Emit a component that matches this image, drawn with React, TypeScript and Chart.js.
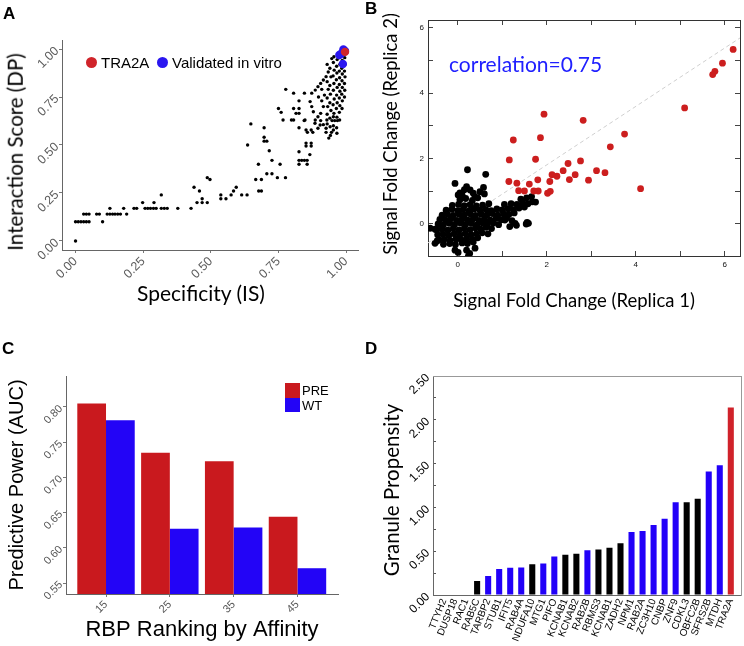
import React, { useEffect, useRef } from 'react';
import { Chart, registerables } from 'chart.js';

Chart.register(...registerables);

// ================= Panel A: Specificity vs Interaction Score =================
const aXTicks = [0, 0.25, 0.5, 0.75, 1];
const aYTicks = [0, 0.25, 0.5, 0.75, 1];
const aTRA2A: [number, number][] = [[0.996, 0.985]];
const aValidated: [number, number][] = [
  [0.99, 0.998], [0.975, 0.969], [0.988, 0.922], [0.982, 0.975], [0.996, 0.99],
];
const aOthers: [number, number][] = [
  [0, 0], [0, 0.10], [0.01, 0.10], [0.02, 0.10], [0.03, 0.10], [0.04, 0.10], [0.05, 0.10],
  [0.03, 0.14], [0.04, 0.14], [0.05, 0.14], [0.078, 0.14], [0.088, 0.14], [0.10, 0.10],
  [0.117, 0.14], [0.127, 0.14], [0.137, 0.14], [0.146, 0.14], [0.156, 0.14], [0.166, 0.14], [0.189, 0.14],
  [0.127, 0.17], [0.178, 0.17],
  [0.216, 0.17], [0.226, 0.17], [0.257, 0.17], [0.267, 0.17], [0.277, 0.17], [0.288, 0.17], [0.298, 0.17],
  [0.317, 0.17], [0.328, 0.17], [0.339, 0.17], [0.378, 0.17], [0.427, 0.17],
  [0.248, 0.20], [0.29, 0.20], [0.317, 0.24],
  [0.438, 0.28], [0.458, 0.26], [0.449, 0.20], [0.468, 0.22], [0.468, 0.20], [0.487, 0.20],
  [0.487, 0.33], [0.497, 0.32],
  [0.537, 0.24], [0.537, 0.22], [0.556, 0.22], [0.575, 0.24], [0.584, 0.26], [0.594, 0.28], [0.614, 0.24], [0.634, 0.24],
  [0.636, 0.50], [0.648, 0.61],
  [0.666, 0.32], [0.687, 0.32], [0.676, 0.40], [0.677, 0.26], [0.687, 0.26],
  [0.697, 0.59], [0.697, 0.54], [0.697, 0.52], [0.707, 0.52], [0.716, 0.47], [0.726, 0.42], [0.756, 0.40],
  [0.707, 0.35], [0.726, 0.35], [0.746, 0.33], [0.776, 0.33],
  [0.75, 0.69], [0.76, 0.67], [0.767, 0.63], [0.777, 0.79], [0.798, 0.63],
  [0.806, 0.77], [0.806, 0.69], [0.815, 0.665], [0.806, 0.63], [0.826, 0.73], [0.826, 0.69], [0.826, 0.665],
  [0.846, 0.77], [0.848, 0.63],
  [0.826, 0.59], [0.852, 0.51], [0.871, 0.51], [0.852, 0.495], [0.871, 0.495],
  [0.826, 0.465], [0.826, 0.42], [0.836, 0.42], [0.846, 0.42], [0.856, 0.42], [0.826, 0.40], [0.856, 0.40], [0.866, 0.45],
  [0.857, 0.566], [0.877, 0.566], [0.845, 0.627], [0.852, 0.578], [0.871, 0.578],
  [0.886, 0.63], [0.896, 0.647], [0.906, 0.665],
  [0.886, 0.786], [0.896, 0.804], [0.906, 0.821], [0.916, 0.839], [0.926, 0.856],
  [0.873, 0.77], [0.867, 0.726], [0.873, 0.70], [0.879, 0.673], [0.885, 0.613],
  [0.896, 0.587], [0.906, 0.627], [0.916, 0.606], [0.926, 0.587], [0.926, 0.566], [0.936, 0.536], [0.946, 0.566],
  [0.948, 0.627], [0.958, 0.627], [0.968, 0.627],
  [0.904, 0.604], [0.929, 0.63], [0.941, 0.595], [0.953, 0.647], [0.953, 0.578], [0.966, 0.561],
  [0.91, 0.73], [0.916, 0.70], [0.92, 0.76], [0.898, 0.75], [0.91, 0.79],
  [0.93, 0.61], [0.93, 0.66], [0.932, 0.70], [0.93, 0.745], [0.934, 0.79], [0.93, 0.83], [0.934, 0.88], [0.93, 0.92],
  [0.942, 0.55], [0.94, 0.64], [0.944, 0.68], [0.94, 0.72], [0.942, 0.765], [0.94, 0.81], [0.944, 0.855], [0.94, 0.90], [0.947, 0.95],
  [0.953, 0.60], [0.955, 0.665], [0.952, 0.71], [0.956, 0.74], [0.953, 0.785], [0.955, 0.82], [0.952, 0.86], [0.956, 0.89], [0.953, 0.93], [0.955, 0.96],
  [0.965, 0.59], [0.966, 0.645], [0.964, 0.69], [0.967, 0.72], [0.965, 0.76], [0.967, 0.80], [0.964, 0.84], [0.966, 0.875], [0.965, 0.91], [0.967, 0.945],
  [0.976, 0.63], [0.975, 0.67], [0.977, 0.705], [0.975, 0.745], [0.977, 0.78], [0.975, 0.815], [0.976, 0.85], [0.975, 0.885], [0.977, 0.92], [0.976, 0.955],
  [0.985, 0.69], [0.986, 0.73], [0.984, 0.765], [0.986, 0.80], [0.985, 0.835], [0.986, 0.87], [0.984, 0.90], [0.986, 0.94],
  [0.994, 0.75], [0.995, 0.785], [0.994, 0.82], [0.996, 0.855], [0.994, 0.885], [0.996, 0.92], [0.995, 0.955], [0.997, 0.975],
];

// ================= Panel B: replica fold changes =================
const bTicks = [0, 1, 2, 3, 4, 5, 6];
const bEnriched: [number, number][] = [
  [6.19, 5.34], [5.95, 4.92], [5.78, 4.67], [5.73, 4.57], [5.10, 3.55], [4.11, 1.08], [3.75, 2.75],
  [3.43, 2.36], [3.31, 1.57], [3.12, 1.63], [2.94, 1.34], [2.82, 3.17], [2.76, 1.93], [2.64, 1.51],
  [2.51, 1.36], [2.48, 1.85], [2.37, 1.63], [2.23, 1.46], [2.12, 1.51], [2.07, 1.30], [2.08, 1.00],
  [2.02, 0.94], [1.94, 3.36], [1.86, 2.64], [1.80, 1.35], [1.75, 1.98], [1.81, 1.01], [1.71, 1.01],
  [1.61, 1.22], [1.50, 1.01], [1.37, 1.02], [1.33, 1.25], [1.25, 2.57], [1.16, 1.96], [1.15, 1.30],
];
const bOther: [number, number][] = [
  [-0.32, -0.62], [-0.18, -0.6], [-0.05, -0.63], [0.1, -0.58], [0.22, -0.6], [0.35, -0.55],
  [-0.42, -0.48], [-0.3, -0.47], [-0.17, -0.5], [-0.04, -0.46], [0.08, -0.49], [0.2, -0.45], [0.33, -0.48], [0.45, -0.42],
  [-0.45, -0.33], [-0.33, -0.31], [-0.2, -0.35], [-0.08, -0.3], [0.05, -0.34], [0.17, -0.29], [0.3, -0.33], [0.42, -0.3], [0.55, -0.27], [0.68, -0.3],
  [-0.47, -0.18], [-0.35, -0.15], [-0.22, -0.19], [-0.1, -0.14], [0.03, -0.18], [0.15, -0.13], [0.28, -0.17], [0.4, -0.12], [0.52, -0.16], [0.64, -0.1], [0.76, -0.14],
  [-0.44, 0.0], [-0.32, -0.03], [-0.19, 0.02], [-0.07, -0.02], [0.06, 0.03], [0.18, -0.01], [0.31, 0.02], [0.43, -0.03], [0.55, 0.04], [0.67, 0.0], [0.8, 0.03], [0.92, -0.02],
  [-0.4, 0.14], [-0.27, 0.12], [-0.15, 0.16], [-0.02, 0.11], [0.1, 0.15], [0.23, 0.12], [0.35, 0.16], [0.48, 0.11], [0.6, 0.15], [0.73, 0.12], [0.86, 0.17], [0.98, 0.13], [1.1, 0.18],
  [-0.35, 0.27], [-0.23, 0.3], [-0.1, 0.26], [0.03, 0.3], [0.15, 0.27], [0.28, 0.31], [0.4, 0.26], [0.53, 0.3], [0.66, 0.28], [0.78, 0.32], [0.9, 0.27], [1.03, 0.31], [1.15, 0.29], [1.27, 0.34],
  [-0.26, 0.42], [-0.13, 0.45], [0.0, 0.41], [0.12, 0.44], [0.25, 0.4], [0.37, 0.46], [0.5, 0.42], [0.63, 0.45], [0.75, 0.41], [0.88, 0.46], [1.0, 0.43], [1.13, 0.47], [1.25, 0.44], [1.38, 0.49], [1.5, 0.52],
  [-0.12, 0.57], [0.02, 0.6], [0.15, 0.56], [0.28, 0.59], [0.42, 0.55], [0.56, 0.58], [0.7, 0.62], [1.05, 0.6], [1.2, 0.62], [1.33, 0.6], [1.46, 0.65], [1.58, 0.62], [1.68, 0.68],
  [0.05, 0.74], [0.18, 0.78], [0.33, 0.72], [0.45, 0.8], [1.42, 0.76], [1.55, 0.8], [1.66, 0.84], [1.75, 0.67],
  [-0.06, 1.24], [0.01, 0.89], [0.05, 0.95], [0.2, 1.14], [0.28, 1.04], [0.35, 0.94], [0.39, 0.83], [0.5, 0.99],
  [0.58, 1.12], [0.6, 0.92], [0.22, 1.66], [0.63, 1.52], [0.15, 1.05], [0.1, 0.88],
  [-0.62, -0.13], [-0.51, -0.16], [-0.51, -0.59], [-0.46, -0.52], [-0.06, -0.8], [0.01, -0.87], [0.2, -0.8],
  [0.24, -0.98], [0.39, -0.74], [0.27, -0.9],
  [1.06, 0.12], [1.22, 0.1], [1.32, -0.04], [1.29, 0.02], [1.54, 0.0], [1.56, 0.05], [1.59, 0.02], [1.17, -0.08],
];
const bFitSlope = 0.894;
const bFitIntercept = 0.019;
const bCorrelation = 0.75;

// ================= Panel C: predictive power =================
const cRanks = [15, 25, 35, 45];
const cPRE = [0.805, 0.735, 0.723, 0.644];
const cWT = [0.781, 0.627, 0.629, 0.571];
const cYTicks = [0.55, 0.6, 0.65, 0.7, 0.75, 0.8];

// ================= Panel D: granule propensity =================
const dGenes = [
  'TTYH2', 'DUSP18', 'RAC1', 'RAB5C', 'TARBP2', 'STUB1', 'IFIT5', 'RAB4A', 'NDUFA10', 'MTG1',
  'PIFO', 'KCNAB1', 'KCNAB2', 'RAB2B', 'RBMS3', 'KCNAB1', 'ZADH2', 'NPM1', 'RAB2A', 'ZC3H10',
  'CNBP', 'ZNF9', 'CDKL3', 'OBFC2B', 'SFRS2B', 'MTDH', 'TRA2A',
];
const dValues = [
  0, 0, 0, 0.16, 0.217, 0.296, 0.31, 0.315, 0.35, 0.36,
  0.44, 0.46, 0.47, 0.51, 0.52, 0.54, 0.59, 0.72, 0.73, 0.80,
  0.87, 1.06, 1.06, 1.10, 1.41, 1.48, 2.14,
];
// o = other, v = validated, t = TRA2A
const dGroups = [
  'o', 'o', 'o', 'o', 'v', 'v', 'v', 'v', 'o', 'v',
  'v', 'o', 'o', 'v', 'o', 'o', 'o', 'v', 'v', 'v',
  'v', 'v', 'o', 'o', 'v', 'v', 't',
];
const dYTicks = [0, 0.25, 0.5, 0.75, 1, 1.25, 1.5, 1.75, 2, 2.25, 2.5];

// ---------------- styles ----------------
const SANS = 'Liberation Sans';
const CAL = 'Lato';
const groupColor: Record<string, string> = { o: '#000000', v: '#2200f8', t: '#d0222a' };

const baseOptions = {
  animation: false as const,
  responsive: false,
  maintainAspectRatio: false,
  devicePixelRatio: 1,
  events: [] as any[],
};
const noPlugins = { legend: { display: false }, tooltip: { enabled: false } };
const setTicks = (vals: number[]) => (s: any) => {
  s.ticks = vals.map((v) => ({ value: v }));
};
const toXY = (pts: [number, number][]) => pts.map(([x, y]) => ({ x, y }));

function configA(): any {
  const tickFont = { family: SANS, size: 12.5 };
  return {
    type: 'scatter',
    data: {
      datasets: [
        { data: toXY(aTRA2A), backgroundColor: '#d0242a', pointRadius: 4.2, borderWidth: 0 },
        { data: toXY(aValidated), backgroundColor: '#2a16f0', pointRadius: 4.2, borderWidth: 0 },
        { data: toXY(aOthers), backgroundColor: '#000', pointRadius: 1.7, borderWidth: 0 },
      ],
    },
    options: {
      ...baseOptions,
      layout: { padding: { top: 40, right: 14, left: 0, bottom: 0 } },
      plugins: noPlugins,
      scales: {
        x: {
          type: 'linear', min: -0.05, max: 1.044,
          afterBuildTicks: setTicks(aXTicks),
          afterFit: (s: any) => { s.height = 70; },
          ticks: { autoSkip: false, minRotation: 45, maxRotation: 45, padding: 1, color: '#5c5c5c', font: tickFont, callback: (v: any) => Number(v).toFixed(2) },
          grid: { drawOnChartArea: false, tickLength: 3, tickColor: '#777' },
          border: { color: '#666' },
        },
        y: {
          type: 'linear', min: -0.047, max: 1.047,
          afterBuildTicks: setTicks(aYTicks),
          afterFit: (s: any) => { s.width = 62; },
          ticks: { autoSkip: false, minRotation: 45, maxRotation: 45, padding: 2, color: '#5c5c5c', font: tickFont, callback: (v: any) => Number(v).toFixed(2) },
          grid: { drawOnChartArea: false, tickLength: 3, tickColor: '#777' },
          border: { color: '#666' },
        },
      },
    },
  };
}

function configB(): any {
  const xMin = -0.667, xMax = 6.344;
  const tickFont = { family: SANS, size: 8 };
  const lbl = (v: any) => (Number(v) % 2 === 0 ? String(v) : '');
  const inner = { drawOnChartArea: false, tickLength: -5, tickColor: '#444' };
  return {
    type: 'scatter',
    data: {
      datasets: [
        { data: toXY(bEnriched), backgroundColor: '#cc1e1e', pointRadius: 3.4, borderWidth: 0 },
        { data: toXY(bOther), backgroundColor: '#000', pointRadius: 3.4, borderWidth: 0 },
        {
          data: [xMin, xMax].map((x) => ({ x, y: bFitIntercept + bFitSlope * x })),
          showLine: true, pointRadius: 0, borderColor: '#cfcfcf', borderWidth: 1, borderDash: [4, 3],
        },
      ],
    },
    options: {
      ...baseOptions,
      layout: { padding: { top: 20, right: 4, left: 0, bottom: 0 } },
      plugins: noPlugins,
      scales: {
        x: {
          type: 'linear', min: xMin, max: xMax,
          afterBuildTicks: setTicks(bTicks),
          afterFit: (s: any) => { s.height = 64; },
          ticks: { autoSkip: false, maxRotation: 0, padding: 9, color: '#111', font: tickFont, callback: lbl },
          grid: inner, border: { color: '#333' },
        },
        y: {
          type: 'linear', min: -0.979, max: 6.24,
          afterBuildTicks: setTicks(bTicks),
          afterFit: (s: any) => { s.width = 56; },
          ticks: { autoSkip: false, padding: 9, color: '#111', font: tickFont, callback: lbl },
          grid: inner, border: { color: '#333' },
        },
        x2: {
          type: 'linear', position: 'top', min: xMin, max: xMax,
          afterBuildTicks: setTicks(bTicks),
          afterFit: (s: any) => { s.height = 0; },
          ticks: { display: false }, grid: inner, border: { color: '#333' },
        },
        y2: {
          type: 'linear', position: 'right', min: -0.979, max: 6.24,
          afterBuildTicks: setTicks(bTicks),
          afterFit: (s: any) => { s.width = 0; },
          ticks: { display: false }, grid: inner, border: { color: '#333' },
        },
      },
    },
  };
}

function configC(): any {
  const yMin = 0.5344, yMax = 0.844;
  const tickFont = { family: SANS, size: 11 };
  return {
    type: 'bar',
    data: {
      datasets: [
        { label: 'PRE', data: cRanks.map((r, i) => ({ x: r, y: cPRE[i] })), backgroundColor: '#c9191e' },
        { label: 'WT', data: cRanks.map((r, i) => ({ x: r, y: cWT[i] })), backgroundColor: '#2304f6' },
      ],
    },
    options: {
      ...baseOptions,
      layout: { padding: { top: 56, right: 34, left: 0, bottom: 0 } },
      plugins: noPlugins,
      datasets: { bar: { categoryPercentage: 0.9, barPercentage: 1.0, base: yMin } },
      scales: {
        x: {
          type: 'linear', offset: false, min: 8.73, max: 51.35,
          afterBuildTicks: setTicks(cRanks),
          afterFit: (s: any) => { s.height = 52; },
          ticks: { autoSkip: false, minRotation: 45, maxRotation: 45, padding: 1, color: '#555', font: tickFont, callback: (v: any) => String(v) },
          grid: { drawOnChartArea: false, offset: false, tickLength: 3, tickColor: '#777' },
          border: { color: '#666' },
          title: { display: true, text: 'RBP Ranking by Affinity', color: '#000', font: { family: SANS, size: 22 }, padding: { top: 3, bottom: 3 } },
        },
        y: {
          type: 'linear', min: yMin, max: yMax,
          afterBuildTicks: setTicks(cYTicks),
          afterFit: (s: any) => { s.width = 66; },
          ticks: { autoSkip: false, minRotation: 45, maxRotation: 45, padding: 2, color: '#555', font: tickFont, callback: (v: any) => Number(v).toFixed(2) },
          grid: { drawOnChartArea: false, tickLength: 3, tickColor: '#777' },
          border: { color: '#666' },
          title: { display: true, text: 'Predictive Power (AUC)', color: '#000', font: { family: SANS, size: 20 }, padding: { top: 5, bottom: 5 } },
        },
      },
    },
  };
}

function configD(): any {
  const isMajor = (v: number) => Math.abs(v * 2 - Math.round(v * 2)) < 1e-6;
  const inner = { drawOnChartArea: false, tickLength: -3, tickColor: '#555' };
  return {
    type: 'bar',
    data: {
      datasets: [
        {
          data: dGenes.map((g, i) => ({ x: i, y: dValues[i] })),
          backgroundColor: dGroups.map((g) => groupColor[g]),
          categoryPercentage: 1, barPercentage: 0.55,
        },
      ],
    },
    options: {
      ...baseOptions,
      layout: { padding: { top: 56, right: 2, left: 0, bottom: 0 } },
      plugins: noPlugins,
      scales: {
        x: {
          type: 'linear', offset: false, min: -1, max: dGenes.length,
          afterBuildTicks: setTicks(dGenes.map((g, i) => i)),
          afterFit: (s: any) => { s.height = 51; },
          ticks: { autoSkip: false, minRotation: 68, maxRotation: 68, padding: 2, color: '#000', font: { family: SANS, size: 10 }, callback: (v: any) => dGenes[Math.round(Number(v))] },
          grid: { drawOnChartArea: false, drawTicks: false },
          border: { color: '#666' },
        },
        y: {
          type: 'linear', min: 0, max: 2.5,
          afterBuildTicks: setTicks(dYTicks),
          afterFit: (s: any) => { s.width = 61; },
          ticks: { autoSkip: false, minRotation: 45, maxRotation: 45, padding: 8, color: '#000', font: { family: SANS, size: 12 }, callback: (v: any) => (isMajor(Number(v)) ? Number(v).toFixed(2) : '') },
          grid: inner,
          border: { color: '#666' },
        },
        x2: {
          type: 'linear', position: 'top', min: -1, max: dGenes.length,
          afterFit: (s: any) => { s.height = 0; },
          ticks: { display: false }, grid: { drawOnChartArea: false, drawTicks: false }, border: { color: '#999' },
        },
        y2: {
          type: 'linear', position: 'right', min: 0, max: 2.5,
          afterFit: (s: any) => { s.width = 0; },
          ticks: { display: false }, grid: { drawOnChartArea: false, drawTicks: false }, border: { color: '#999' },
        },
      },
    },
  };
}

function ChartCanvas(props: { left: number; top: number; width: number; height: number; make: () => any }) {
  const ref = useRef<HTMLCanvasElement>(null);
  useEffect(() => {
    const chart = new Chart(ref.current as HTMLCanvasElement, props.make());
    return () => chart.destroy();
  }, []);
  return (
    <canvas
      ref={ref}
      width={props.width}
      height={props.height}
      style={{ position: 'absolute', left: props.left, top: props.top, width: props.width, height: props.height }}
    />
  );
}

function Label(props: { x: number; y: number; text: string; style?: React.CSSProperties; center?: boolean; vertical?: boolean }) {
  let transform = 'translate(0, -50%)';
  if (props.center) transform = 'translate(-50%, -50%)';
  if (props.vertical) transform = 'translate(-50%, -50%) rotate(-90deg)';
  return (
    <div
      style={{
        position: 'absolute', left: props.x, top: props.y, whiteSpace: 'nowrap', lineHeight: 1,
        transform, ...props.style,
      }}
    >
      {props.text}
    </div>
  );
}

function Dot(props: { x: number; y: number; r: number; color: string }) {
  return (
    <div style={{ position: 'absolute', left: props.x - props.r, top: props.y - props.r, width: props.r * 2, height: props.r * 2, borderRadius: '50%', background: props.color }} />
  );
}

function Swatch(props: { x: number; y: number; w: number; h: number; color: string }) {
  return <div style={{ position: 'absolute', left: props.x, top: props.y, width: props.w, height: props.h, background: props.color }} />;
}

export default function App() {
  const letter: React.CSSProperties = { fontFamily: SANS, fontWeight: 'bold', fontSize: 17, color: '#000' };
  const cal = (size: number): React.CSSProperties => ({ fontFamily: CAL, fontSize: size, color: '#000' });
  return (
    <div style={{ position: 'absolute', left: 0, top: 0, width: 744, height: 646, background: '#fff', overflow: 'hidden' }}>
      <ChartCanvas left={0} top={0} width={372} height={320} make={configA} />
      <ChartCanvas left={372} top={0} width={372} height={320} make={configB} />
      <ChartCanvas left={0} top={320} width={372} height={326} make={configC} />
      <ChartCanvas left={372} top={320} width={372} height={326} make={configD} />

      {/* panel letters */}
      <Label x={3} y={12.5} text="A" style={letter} />
      <Label x={365} y={8} text="B" style={letter} />
      <Label x={2} y={348} text="C" style={letter} />
      <Label x={365} y={348} text="D" style={letter} />

      {/* panel A legend + axis titles */}
      <Dot x={91} y={62} r={5.5} color="#d0242a" />
      <Label x={101} y={62} text="TRA2A" style={{ fontFamily: SANS, fontSize: 15, color: '#000' }} />
      <Dot x={162} y={62} r={5.5} color="#2a16f0" />
      <Label x={172} y={62} text="Validated in vitro" style={{ fontFamily: SANS, fontSize: 15, color: '#000' }} />
      <Label x={201} y={292} center text="Specificity (IS)" style={cal(21)} />
      <Label x={15} y={151.5} vertical text="Interaction Score (DP)" style={cal(20.5)} />

      {/* panel B annotation + axis titles */}
      <Label x={449} y={63} text={`correlation=${bCorrelation.toFixed(2)}`} style={{ fontFamily: CAL, fontSize: 21, color: '#2020ff' }} />
      <Label x={574} y={300} center text="Signal Fold Change (Replica 1)" style={cal(18.5)} />
      <Label x={390} y={133.5} vertical text="Signal Fold Change (Replica 2)" style={cal(18.5)} />

      {/* panel C legend */}
      <Swatch x={285} y={383} w={15} h={14.5} color="#c9191e" />
      <Swatch x={285} y={397.5} w={15} h={14.5} color="#2304f6" />
      <Label x={302} y={390} text="PRE" style={{ fontFamily: SANS, fontSize: 13, color: '#000' }} />
      <Label x={302} y={405} text="WT" style={{ fontFamily: SANS, fontSize: 13, color: '#000' }} />

      {/* panel D axis title */}
      <Label x={390.5} y={490} vertical text="Granule Propensity" style={cal(20.5)} />
    </div>
  );
}
